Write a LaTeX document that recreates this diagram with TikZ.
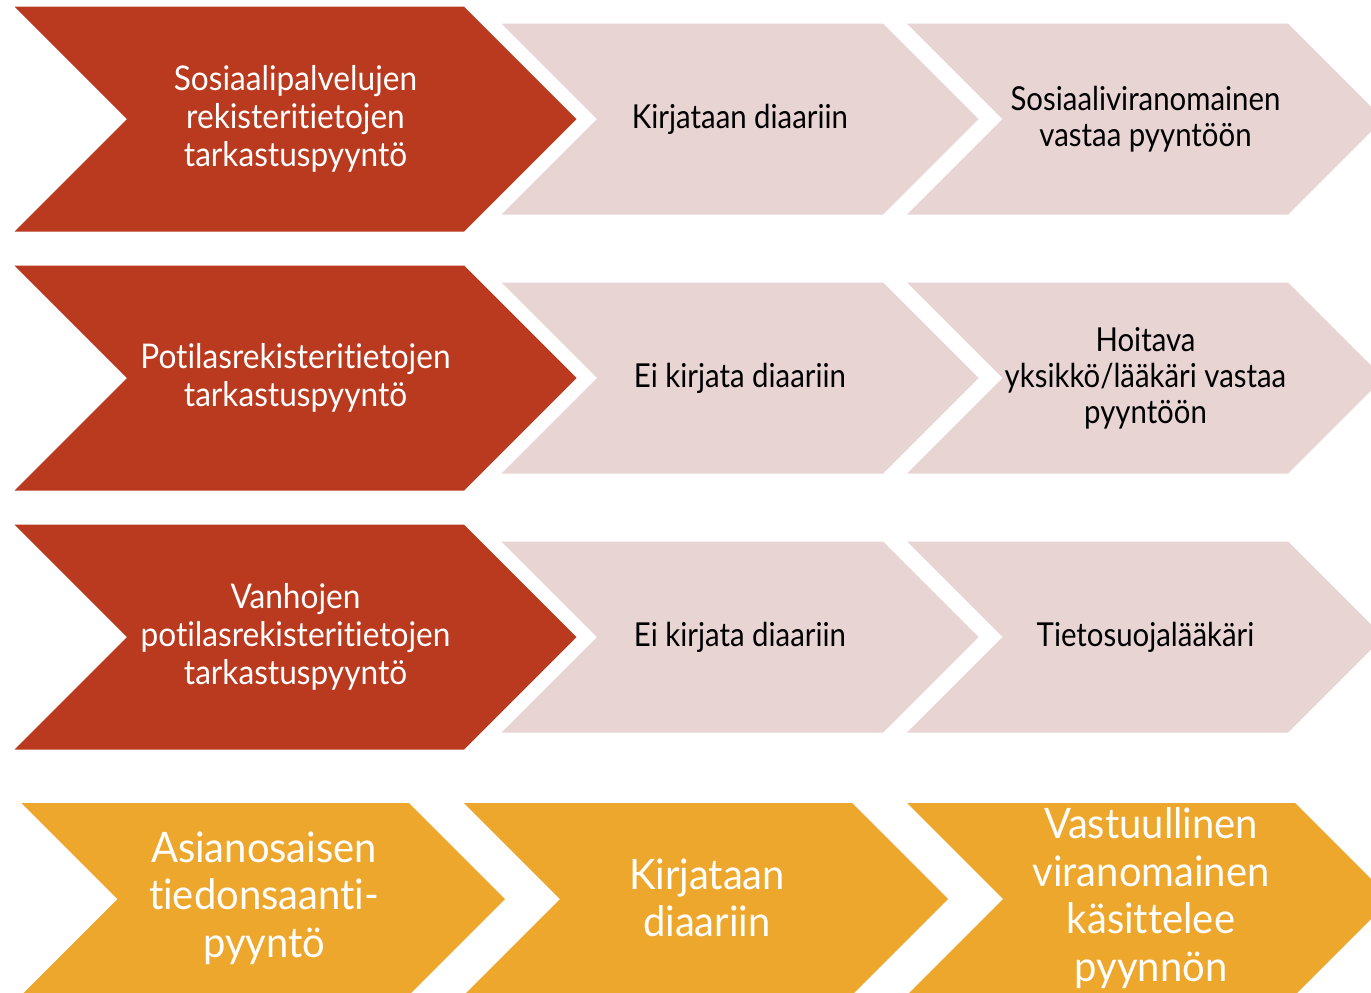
\documentclass[tikz,border=0pt]{standalone}
\usepackage{fontspec}
\setmainfont{Lato}
\newfontfamily\redf[FakeStretch=0.93,Ligatures={NoCommon,NoRare,NoDiscretionary}]{Lato}
\newfontfamily\pinkf[FakeStretch=0.89,Ligatures={NoCommon,NoRare,NoDiscretionary}]{Lato}
\newfontfamily\bigf[FakeStretch=0.95,Ligatures={NoCommon,NoRare,NoDiscretionary}]{Lato}
\definecolor{cRed}{RGB}{186,58,32}
\definecolor{cPink}{RGB}{232,212,211}
\definecolor{cOrange}{RGB}{238,167,45}
% #1 fill colour, #2 left x, #3 centre y, #4 top width, #5 half height
\newcommand\chevshape[5]{%
  \fill[#1] (#2,#3-#5) -- ++(#4,0) -- ++(#5,#5) -- ++(-#5,#5) -- ++(-#4,0) -- ++(#5,-#5) -- cycle;}
\begin{document}
\begin{tikzpicture}[x=1pt,y=-1pt,
  lblw/.style={align=center,inner sep=0pt,text=white,font=\redf\fontsize{34}{38}\selectfont},
  lblk/.style={align=center,inner sep=0pt,text=black,font=\pinkf\fontsize{33}{36}\selectfont},
  lblo/.style={align=center,inner sep=0pt,text=white,font=\bigf\fontsize{42}{47.5}\selectfont}]
\useasboundingbox (0,0) rectangle (1371,993);
\fill[white] (0,0) rectangle (1371,993);
\clip (0,0) rectangle (1371,993);
% row 1
\chevshape{cRed}{14.5}{119.2}{449.5}{112.5}
\chevshape{cPink}{501.5}{119.2}{381.5}{95.5}
\chevshape{cPink}{907}{119.2}{381}{95.5}
\node[lblw] (r1) at (295.5,119.2) {Sosiaalipalvelujen\\rekisteritietojen\\tarkastuspyyntö};
\node[lblk] (p1a) at (740,119.2) {Kirjataan diaariin};
\node[lblk] (p1b) at (1145.5,119.2) {Sosiaaliviranomainen\\vastaa pyyntöön};
% row 2
\chevshape{cRed}{14.5}{378}{449.5}{112.5}
\chevshape{cPink}{501.5}{378}{381.5}{95.5}
\chevshape{cPink}{907}{378}{381}{95.5}
\node[lblw] (r2) at (295.5,378) {Potilasrekisteritietojen\\tarkastuspyyntö};
\node[lblk] (p2a) at (740,378) {Ei kirjata diaariin};
\node[lblk] (p2b) at (1145.5,378) {Hoitava\\yksikkö/lääkäri vastaa\\pyyntöön};
% row 3
\chevshape{cRed}{14.5}{637}{449.5}{112.5}
\chevshape{cPink}{501.5}{637}{381.5}{95.5}
\chevshape{cPink}{907}{637}{381}{95.5}
\node[lblw] (r3) at (295.5,637) {Vanhojen\\potilasrekisteritietojen\\tarkastuspyyntö};
\node[lblk] (p3a) at (740,637) {Ei kirjata diaariin};
\node[lblk] (p3b) at (1145.5,637) {Tietosuojalääkäri};
% row 4
\chevshape{cOrange}{21.5}{899}{387.5}{96}
\chevshape{cOrange}{464}{899}{388}{96}
\chevshape{cOrange}{907}{899}{388}{96}
\node[lblo] (o1) at (264,898) {Asianosaisen\\tiedonsaanti-\\pyyntö};
\node[lblo] (o2) at (707,898) {Kirjataan\\diaariin};
\node[lblo] (o3) at (1151,898) {Vastuullinen\\viranomainen\\käsittelee\\pyynnön};
\end{tikzpicture}
\end{document}
